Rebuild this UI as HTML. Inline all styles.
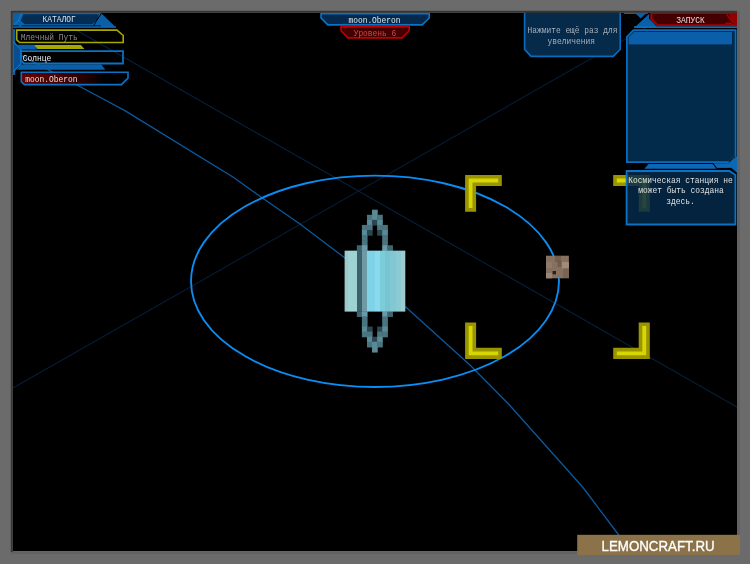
<!DOCTYPE html>
<html><head><meta charset="utf-8">
<style>
html,body{margin:0;padding:0;background:#6b6b6b;width:750px;height:564px;overflow:hidden}
svg{display:block;will-change:transform}
text{font-family:"Liberation Mono",monospace;}
</style></head><body>
<svg width="750" height="564" viewBox="0 0 750 564">
<rect x="0" y="0" width="750" height="564" fill="#6b6b6b"/>
<rect x="13" y="13" width="724" height="538" fill="#000"/>
<defs><clipPath id="scr"><rect x="13" y="13" width="724" height="538.5"/></clipPath></defs>
<g clip-path="url(#scr)">
<line x1="13" y1="388" x2="680" y2="8" stroke="#041c38" stroke-width="1.1"/>
<line x1="13" y1="-6" x2="737" y2="407" stroke="#04223f" stroke-width="1.05"/>
<polyline fill="none" stroke="#0a5aa0" stroke-width="1.25" points="13,51 100,97.3 125.3,110.9 233.3,177.3 261.3,197.3 300,224 344,257.3 406.3,307.6 471,366 509,404.5 583,487.5 618,534 631,551"/>
</g>
<ellipse cx="375" cy="281.3" rx="184" ry="105.7" fill="none" stroke="#0a8ef5" stroke-width="1.85"/>
<g fill="#d6d600" stroke="#999400" stroke-width="3.6"><path d="M466.9,176.7 H500 V184.2 H474.3 V209.9 H466.9 Z"/><path d="M466.9,324.3 V357.1 H500 V349.6 H474.3 V324.3 Z"/><path d="M648,324.3 V357.1 H615 V349.6 H640.5 V324.3 Z"/><path d="M648,176.7 H615 V184.2 H640.5 V209.9 H648 Z"/></g>
<rect x="546" y="255.7" width="22.9" height="22.6" fill="#86705f"/><rect x="555" y="256" width="6" height="6" fill="#6f5a4a" opacity="0.8"/><rect x="557.5" y="261" width="4" height="6" fill="#6a5546" opacity="0.7"/><rect x="562" y="262" width="6.9" height="6" fill="#a08a7a"/><rect x="546" y="262" width="6" height="6" fill="#8e7a69"/><rect x="546" y="273" width="6" height="5.3" fill="#9a8676"/><rect x="563" y="269" width="5.9" height="9" fill="#7a6454"/><rect x="552.6" y="271" width="3.4" height="3.3" fill="#2e1e14"/>
<defs><linearGradient id="body" x1="0" x2="1"><stop offset="0.0000" stop-color="#9cc9c9"/><stop offset="0.0593" stop-color="#9cc9c9"/><stop offset="0.0593" stop-color="#9fd3d3"/><stop offset="0.2059" stop-color="#9fd3d3"/><stop offset="0.2059" stop-color="#3d616b"/><stop offset="0.2900" stop-color="#3d616b"/><stop offset="0.2900" stop-color="#6e9aa6"/><stop offset="0.3723" stop-color="#6e9aa6"/><stop offset="0.3723" stop-color="#80d3e7"/><stop offset="0.4942" stop-color="#80d3e7"/><stop offset="0.4942" stop-color="#88dbee"/><stop offset="0.5815" stop-color="#88dbee"/><stop offset="0.5815" stop-color="#7ccdd9"/><stop offset="0.6672" stop-color="#7ccdd9"/><stop offset="0.6672" stop-color="#78c4d0"/><stop offset="0.7545" stop-color="#78c4d0"/><stop offset="0.7545" stop-color="#80c8d3"/><stop offset="0.8418" stop-color="#80c8d3"/><stop offset="0.8418" stop-color="#8bc9d3"/><stop offset="0.9292" stop-color="#8bc9d3"/><stop offset="0.9292" stop-color="#9ccccd"/><stop offset="1.0000" stop-color="#9ccccd"/></linearGradient></defs>
<rect x="372.04" y="209.70" width="5.68" height="5.68" fill="#5a8a96"/>
<rect x="366.96" y="214.78" width="5.68" height="5.68" fill="#4a7480"/>
<rect x="372.04" y="214.78" width="5.68" height="5.68" fill="#5a8a96"/>
<rect x="377.12" y="214.78" width="5.68" height="5.68" fill="#4a7480"/>
<rect x="366.96" y="219.86" width="5.68" height="5.68" fill="#5a8a96"/>
<rect x="372.04" y="219.86" width="5.68" height="5.68" fill="#2a4650"/>
<rect x="377.12" y="219.86" width="5.68" height="5.68" fill="#5a8a96"/>
<rect x="361.88" y="224.94" width="5.68" height="5.68" fill="#4a7480"/>
<rect x="366.96" y="224.94" width="5.68" height="5.68" fill="#4a7480"/>
<rect x="377.12" y="224.94" width="5.68" height="5.68" fill="#4a7480"/>
<rect x="382.20" y="224.94" width="5.68" height="5.68" fill="#4a7480"/>
<rect x="361.88" y="230.02" width="5.68" height="5.68" fill="#5a8a96"/>
<rect x="366.96" y="230.02" width="5.68" height="5.68" fill="#2a4650"/>
<rect x="377.12" y="230.02" width="5.68" height="5.68" fill="#2a4650"/>
<rect x="382.20" y="230.02" width="5.68" height="5.68" fill="#5a8a96"/>
<rect x="361.88" y="235.10" width="5.68" height="5.68" fill="#4a7480"/>
<rect x="382.20" y="235.10" width="5.68" height="5.68" fill="#4a7480"/>
<rect x="361.88" y="240.18" width="5.68" height="5.68" fill="#4a7480"/>
<rect x="382.20" y="240.18" width="5.68" height="5.68" fill="#4a7480"/>
<rect x="356.80" y="245.26" width="5.68" height="5.68" fill="#3e6470"/>
<rect x="361.88" y="245.26" width="5.68" height="5.68" fill="#6a9aa8"/>
<rect x="382.20" y="245.26" width="5.68" height="5.68" fill="#6a9aa8"/>
<rect x="387.28" y="245.26" width="5.68" height="5.68" fill="#3e6470"/>
<rect x="356.80" y="311.30" width="5.68" height="5.68" fill="#3e6470"/>
<rect x="361.88" y="311.30" width="5.68" height="5.68" fill="#6a9aa8"/>
<rect x="382.20" y="311.30" width="5.68" height="5.68" fill="#6a9aa8"/>
<rect x="387.28" y="311.30" width="5.68" height="5.68" fill="#3e6470"/>
<rect x="361.88" y="316.38" width="5.68" height="5.68" fill="#4a7480"/>
<rect x="382.20" y="316.38" width="5.68" height="5.68" fill="#4a7480"/>
<rect x="361.88" y="321.46" width="5.68" height="5.68" fill="#4a7480"/>
<rect x="382.20" y="321.46" width="5.68" height="5.68" fill="#4a7480"/>
<rect x="361.88" y="326.54" width="5.68" height="5.68" fill="#5a8a96"/>
<rect x="366.96" y="326.54" width="5.68" height="5.68" fill="#2a4650"/>
<rect x="377.12" y="326.54" width="5.68" height="5.68" fill="#2a4650"/>
<rect x="382.20" y="326.54" width="5.68" height="5.68" fill="#5a8a96"/>
<rect x="361.88" y="331.62" width="5.68" height="5.68" fill="#4a7480"/>
<rect x="366.96" y="331.62" width="5.68" height="5.68" fill="#4a7480"/>
<rect x="377.12" y="331.62" width="5.68" height="5.68" fill="#4a7480"/>
<rect x="382.20" y="331.62" width="5.68" height="5.68" fill="#4a7480"/>
<rect x="366.96" y="336.70" width="5.68" height="5.68" fill="#5a8a96"/>
<rect x="372.04" y="336.70" width="5.68" height="5.68" fill="#2a4650"/>
<rect x="377.12" y="336.70" width="5.68" height="5.68" fill="#5a8a96"/>
<rect x="366.96" y="341.78" width="5.68" height="5.68" fill="#4a7480"/>
<rect x="372.04" y="341.78" width="5.68" height="5.68" fill="#5a8a96"/>
<rect x="377.12" y="341.78" width="5.68" height="5.68" fill="#4a7480"/>
<rect x="372.04" y="346.86" width="5.68" height="5.68" fill="#5a8a96"/>
<rect x="344.60" y="250.64" width="60.70" height="60.96" fill="url(#body)"/>

<path d="M524.6,11 V49.5 L531.1,56.4 H613.2 L620.2,49.5 V11" fill="#052a4a" stroke="#0b6cbc" stroke-width="1.6"/>
<text transform="translate(572.5,33.2) scale(0.88,1)" x="0" y="0" fill="#a8b0b8" font-size="9" text-anchor="middle" >Нажмите ещё раз для</text>
<text transform="translate(571.2,43.6) scale(0.88,1)" x="0" y="0" fill="#a8b0b8" font-size="9" text-anchor="middle" >увеличения</text>
<rect x="624" y="13" width="25" height="0.9" fill="#0b6cbc"/>
<path d="M635.8,13.8 H645.6 L640.7,18.6 Z" fill="#0a5fa8"/>
<path d="M634,27.2 L649.2,13 V18.7 L657,26.7 Z" fill="#0a5fa8"/>
<path d="M649.2,13 L634,27.2" stroke="#000" stroke-width="1.1"/>
<path d="M651.3,13 H737 V25.3 H657.5 L651.3,19 Z" fill="#440000" stroke="#a80000" stroke-width="2"/>
<path d="M728.7,13.5 H737 V24 L731.5,21 Z" fill="#900000"/>
<path d="M726.5,13.5 L728.5,17 L732,21.3 L737,24.5 M724.5,25 L726.5,23.3 H731 L733,25" fill="none" stroke="#a80000" stroke-width="1.4"/>
<text transform="translate(690.5,23.2) scale(0.88,1)" x="0" y="0" fill="#e8d8d8" font-size="9" text-anchor="middle" >ЗАПУСК</text>
<rect x="634" y="26.4" width="103" height="1.5" fill="#0b78cc"/>
<path d="M633.5,30.2 H735.6 V156 L729.5,162.2 H626.9 V36.8 Z" fill="#022a4a" stroke="#0b6cbc" stroke-width="1.8"/>
<path d="M634,31.9 H732 V44.5 H628.6 V37.3 Z" fill="#0a5fa8"/>
<path d="M628.6,44.5 H732" stroke="#063c70" stroke-width="0.8"/>
<path d="M713.5,163.2 H728.9 L737,156 V173 L731.5,168.3 H717.2 Z" fill="#0b68b6"/>
<path d="M717.2,168.4 H731.5 L737,173.5" fill="none" stroke="#000" stroke-width="1"/>
<path d="M728.9,162.3 L735.2,156.2" fill="none" stroke="#000" stroke-width="1"/>
<path d="M648.7,164 H712.7 L716.4,168.7 H644.3 Z" fill="#0b68b6"/>
<path d="M626.6,171 H729.4 L735.4,175 V224.5 H626.6 Z" fill="rgba(3,42,74,0.84)" stroke="#0b72c4" stroke-width="1.8"/>
<text transform="translate(680.5,182.8) scale(0.88,1)" x="0" y="0" fill="#e0e0e0" font-size="9" text-anchor="middle" >Космическая станция не</text>
<text transform="translate(681,193.2) scale(0.88,1)" x="0" y="0" fill="#e0e0e0" font-size="9" text-anchor="middle" >может быть создана</text>
<text transform="translate(680.5,203.6) scale(0.88,1)" x="0" y="0" fill="#e0e0e0" font-size="9" text-anchor="middle" >здесь.</text>
<path d="M321,13.6 H429.2 V18 L422.2,24.9 H327.8 L321,18 Z" fill="#04294c" stroke="#0b72c4" stroke-width="1.6"/>
<text transform="translate(374.5,23.4) scale(0.88,1)" x="0" y="0" fill="#e0e8f0" font-size="9" text-anchor="middle" >moon.Oberon</text>
<path d="M341,26.6 H409.2 V30.7 L402.2,37.9 H347.8 L341,30.7 Z" fill="#440000" stroke="#c00000" stroke-width="1.6"/>
<text transform="translate(375,36.4) scale(0.88,1)" x="0" y="0" fill="#d04848" font-size="9" text-anchor="middle" >Уровень 6</text>
<path d="M13,13 H101 L116,27.6 H13 Z" fill="#0a5fa8"/>
<path d="M23,13.6 H99.2 V18.7 L92.7,25 H24.5 L19.8,21 Z" fill="#052c52" stroke="#0b68b4" stroke-width="1.3"/>
<path d="M101.5,13 L93.5,25.8" stroke="#000" stroke-width="1"/>
<path d="M21.3,13.3 L18.1,21.3 L13.5,25.6" fill="none" stroke="#0b78c8" stroke-width="1.3"/>
<rect x="13" y="25.5" width="88" height="1" fill="#000"/>
<path d="M18.6,26.2 L20.5,24.2 L22.4,26.2 Z" fill="#0b6cbc"/>
<rect x="13" y="26.4" width="103" height="1.5" fill="#0b68b4"/>
<text transform="translate(59.2,22.4) scale(0.88,1)" x="0" y="0" fill="#d8e0e8" font-size="9" text-anchor="middle" >КАТАЛОГ</text>
<rect x="13" y="27.9" width="104" height="1.1" fill="#000"/>
<rect x="13" y="29" width="2.2" height="46" fill="#0a5fa8"/>
<path d="M13,41.5 L21,49.5 V64 L13,72 Z" fill="#0a4d90" stroke="#0b78c8" stroke-width="1.3"/>
<path d="M16,44.8 H34 L37.5,49.6 H21 Z" fill="#0a5fa8"/>
<path d="M21,64.6 H101.3 L105.3,69.7 H17 Z" fill="#0a5fa8"/>
<path d="M16.7,30.1 H117 L123.2,35.5 V42.5 H19.5 L16.7,39.7 Z" fill="none" stroke="#a6a600" stroke-width="1.6"/>
<text transform="translate(20.8,39.6) scale(0.88,1)" x="0" y="0" fill="#8a8a8a" font-size="9" text-anchor="start" >Млечный Путь</text>
<path d="M34,44.9 H80.9 L84.4,48.9 H37.5 Z" fill="#a8a800"/>
<path d="M21,51.2 H123 V63.5 H24 L21,60.5 Z" fill="none" stroke="#0b72c4" stroke-width="1.8"/>
<text transform="translate(22.7,61.3) scale(0.88,1)" x="0" y="0" fill="#f0f0f0" font-size="9" text-anchor="start" >Солнце</text>
<defs><linearGradient id="rg" x1="21" x2="128" gradientUnits="userSpaceOnUse"><stop offset="0" stop-color="#6e0000" stop-opacity="0.92"/><stop offset="0.4" stop-color="#480000" stop-opacity="0.9"/><stop offset="0.68" stop-color="#1c0000" stop-opacity="0.85"/><stop offset="0.8" stop-color="#000" stop-opacity="0"/></linearGradient></defs>
<path d="M21.3,72.3 H128 V78.1 L121.5,84.6 H24.3 L21.3,81.6 Z" fill="url(#rg)" stroke="#0b72c4" stroke-width="1.6"/>
<text transform="translate(25.3,82.2) scale(0.88,1)" x="0" y="0" fill="#f0d8d8" font-size="9" text-anchor="start" >moon.Oberon</text>
<path fill-rule="evenodd" fill="#6b6b6b" d="M0,0 H750 V564 H0 Z M11,11 H737 V551.5 H11 Z"/>
<rect x="737" y="11" width="3" height="541" fill="#626262"/>
<rect x="11" y="551.5" width="727" height="2.5" fill="#626262"/>
<rect x="11" y="10.8" width="726" height="2" fill="#363636"/>
<rect x="10.8" y="11" width="2" height="541" fill="#363636"/>
<rect x="577.2" y="534.8" width="162.8" height="20.2" fill="#8c7248"/>
<text x="601.6" y="550.6" fill="#ffffff" font-size="14.8" textLength="113" lengthAdjust="spacingAndGlyphs" stroke="#fff" stroke-width="0.35" style="font-family:'Liberation Sans',sans-serif">LEMONCRAFT.RU</text>
</svg>
</body></html>
